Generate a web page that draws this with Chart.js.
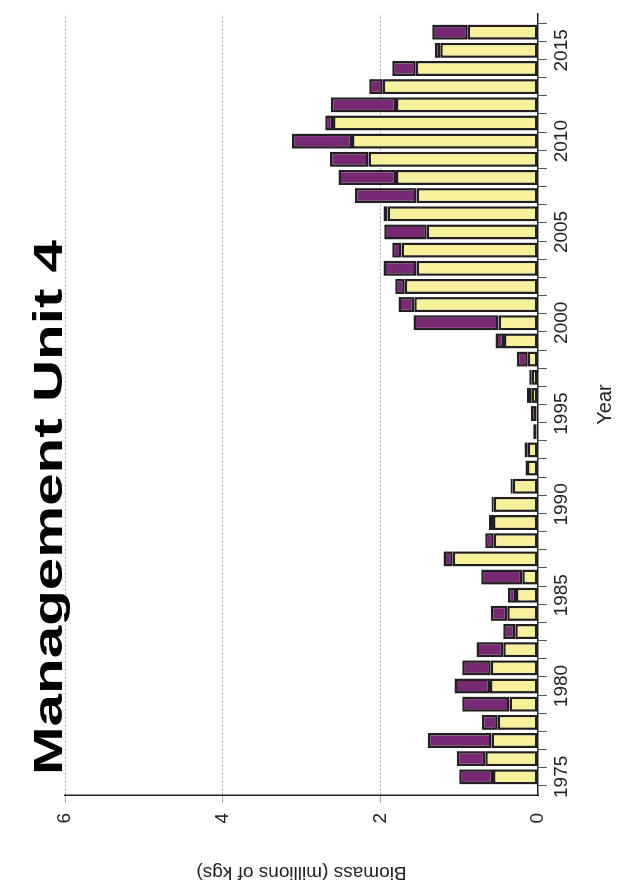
<!DOCTYPE html>
<html>
<head>
<meta charset="utf-8">
<script src="https://cdn.jsdelivr.net/npm/chart.js@4"></script>
<style>
  html, body { margin: 0; padding: 0; background: #fff; overflow: hidden; }
  #wrap {
    position: absolute; left: 0; top: 0; width: 888px; height: 621px;
    transform-origin: 0 0; transform: translate(0, 888px) rotate(-90deg);
  }
</style>
</head>
<body>
<div id="wrap"><canvas id="chart" width="888" height="621"></canvas></div>
<script>
const years = [];
for (let y = 1975; y <= 2016; y++) years.push(String(y));

// lower (yellow) part of each bar
const lowerPart = [0.57, 0.67, 0.59, 0.51, 0.36, 0.61, 0.60, 0.44, 0.29, 0.39,
    0.28, 0.20, 1.08, 0.56, 0.57, 0.56, 0.32, 0.14, 0.13, 0.02,
    0.02, 0.08, 0.08, 0.13, 0.43, 0.50, 1.57, 1.69, 1.54, 1.73,
    1.41, 1.91, 1.54, 1.80, 2.15, 2.36, 2.60, 1.80, 1.97, 1.55,
    1.24, 0.89];
// bar totals
const totals = [1.00, 1.03, 1.40, 0.71, 0.96, 1.06, 0.96, 0.78, 0.44, 0.60,
    0.38, 0.72, 1.20, 0.67, 0.62, 0.59, 0.35, 0.16, 0.17, 0.06,
    0.09, 0.14, 0.11, 0.27, 0.54, 1.58, 1.77, 1.81, 1.96, 1.85,
    1.95, 1.96, 2.32, 2.53, 2.64, 3.12, 2.70, 2.63, 2.14, 1.85,
    1.31, 1.34];
const upperPart = totals.map((t, i) => +(t - lowerPart[i]).toFixed(2));
const valueTicks = [0, 2, 4, 6];

// empty slot each side so the axis has room like the original
const labels = ['1974'].concat(years, ['2017']);
const pad = arr => [null].concat(arr, [null]);

const FONT = 'Liberation Sans, Arial, sans-serif';

const titlePlugin = {
  id: 'leftTitle',
  afterDraw(chart) {
    const c = chart.ctx;
    const txt = 'Management Unit 4';
    c.save();
    c.font = 'bold 40px ' + FONT;
    c.fillStyle = '#000';
    c.textBaseline = 'alphabetic';
    const w = c.measureText(txt).width;
    c.translate(113, 62);
    c.scale(535 / w, 1);
    c.fillText(txt, 0, 0);
    c.restore();
  }
};

new Chart(document.getElementById('chart'), {
  type: 'bar',
  data: {
    labels: labels,
    datasets: [
      { label: 'lower', data: pad(lowerPart), backgroundColor: '#f8f19b', borderColor: '#231f20', borderWidth: 2.5, borderSkipped: false },
      { label: 'upper', data: pad(upperPart), backgroundColor: '#772a73', borderColor: '#231f20', borderWidth: 2.5, borderSkipped: false }
    ]
  },
  options: {
    responsive: false,
    animation: false,
    layout: { padding: { top: 65, right: 14, left: 0, bottom: 0 } },
    datasets: { bar: { barPercentage: 0.83, categoryPercentage: 1 } },
    plugins: { legend: { display: false }, tooltip: { enabled: false } },
    scales: {
      x: {
        stacked: true,
        offset: false,
        grid: { display: true, drawOnChartArea: false, offset: true, tickLength: 9, color: '#555' },
        border: { color: '#222', width: 1.5 },
        ticks: {
          autoSkip: false, maxRotation: 0, color: '#222', font: { family: FONT, size: 19 },
          callback: function (v, i) { return (+labels[i]) % 5 === 0 && i > 0 && i < labels.length - 1 ? labels[i] : ''; }
        },
        title: { display: true, text: 'Year', color: '#222', font: { family: FONT, size: 20 }, padding: { top: 0 } },
        afterFit: s => { s.height = 83; }
      },
      y: {
        stacked: true,
        min: 0, max: 6,
        afterBuildTicks: s => { s.ticks = valueTicks.map(v => ({ value: v })); },
        grid: {
          color: c => c.tick.value === 0 ? 'rgba(0,0,0,0)' : '#aaa',
          lineWidth: 1, tickLength: 8, drawTicks: true
        },
        border: { color: '#222', width: 1.5, dash: [2, 2] },
        ticks: { color: '#222', font: { family: FONT, size: 19 }, padding: 10 },
        title: { display: true, text: 'Biomass (millions of kgs)', color: '#222', font: { family: FONT, size: 19 }, padding: { bottom: 0 } },
        afterFit: s => { s.width = 93; }
      }
    }
  },
  plugins: [titlePlugin]
});
</script>
</body>
</html>
